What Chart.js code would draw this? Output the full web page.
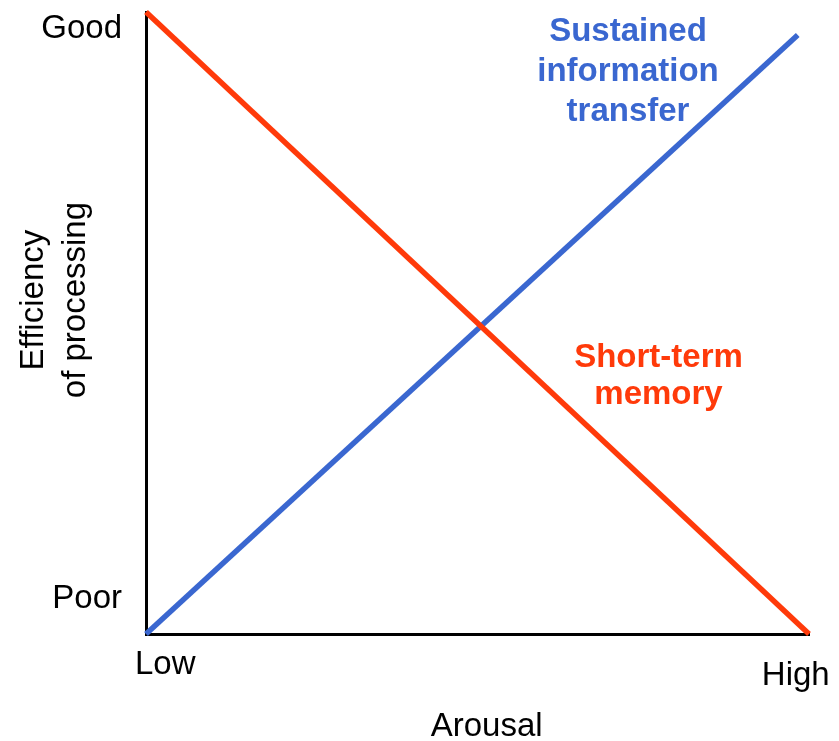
<!DOCTYPE html>
<html>
<head>
<meta charset="utf-8">
<script src="https://cdn.jsdelivr.net/npm/chart.js@4/dist/chart.umd.min.js"></script>
<style>
  html, body { margin: 0; padding: 0; background: #ffffff; }
  #wrap { width: 839px; height: 741px; }
</style>
</head>
<body>
<div id="wrap"><canvas id="c" width="839" height="741"></canvas></div>
<script>
// ---- data ----
const seriesNames = ['Short-term memory', 'Sustained information transfer'];
const arousalX = [0, 1];                 // Low -> High
const shortTermMemory = [1, 0];          // efficiency, falls with arousal
const sustainedX = [0, 0.983];
const sustainedInfo = [0, 0.963];        // efficiency, rises with arousal
const xTickValues = [0.029, 0.980];
const xTickLabels = ['Low', 'High'];
const yTickValues = [0.056, 0.9735];
const yTickLabels = ['Poor', 'Good'];
const xTitle = 'Arousal';
const yTitle = ['Efficiency', 'of processing'];

const RED = '#FF3A0A';
const BLUE = '#3A67D0';
const FAMILY = "'Liberation Sans', Arial, Helvetica, sans-serif";
const FS = 33;

const annotationPlugin = {
  id: 'seriesLabels',
  afterDatasetsDraw(chart) {
    const {ctx, scales: {x, y}} = chart;
    const labels = [
      {lines: ['Sustained', 'information', 'transfer'], cx: 0.727, ys: [0.953, 0.889, 0.825], color: BLUE},
      {lines: ['Short-term', 'memory'], cx: 0.773, ys: [0.429, 0.369], color: RED}
    ];
    ctx.save();
    ctx.font = 'bold ' + FS + 'px ' + FAMILY;
    ctx.textAlign = 'center';
    ctx.textBaseline = 'alphabetic';
    labels.forEach(l => {
      ctx.fillStyle = l.color;
      l.lines.forEach((t, i) => {
        ctx.fillText(t, x.getPixelForValue(l.cx), y.getPixelForValue(l.ys[i]));
      });
    });
    ctx.restore();
  }
};

new Chart(document.getElementById('c'), {
  type: 'line',
  data: {
    datasets: [
      {
        label: seriesNames[0],
        data: arousalX.map((v, i) => ({x: v, y: shortTermMemory[i]})),
        borderColor: RED,
        borderWidth: 5.5,
        pointRadius: 0,
        tension: 0,
        clip: false
      },
      {
        label: seriesNames[1],
        data: sustainedX.map((v, i) => ({x: v, y: sustainedInfo[i]})),
        borderColor: BLUE,
        borderWidth: 5.5,
        pointRadius: 0,
        tension: 0,
        clip: false
      }
    ]
  },
  options: {
    responsive: false,
    animation: false,
    devicePixelRatio: 1,
    layout: { padding: { top: 12, right: 30, left: 0, bottom: 0 } },
    plugins: { legend: { display: false }, tooltip: { enabled: false } },
    scales: {
      x: {
        type: 'linear',
        min: 0, max: 1,
        grid: { display: false, drawTicks: false },
        border: { display: true, color: '#000', width: 3 },
        afterBuildTicks: s => { s.ticks = xTickValues.map(v => ({value: v})); },
        afterFit: s => { s.height = 107; s.paddingLeft = 0; s.paddingRight = 0; s.paddingTop = 0; s.paddingBottom = 0; },
        ticks: {
          autoSkip: false,
          maxRotation: 0,
          minRotation: 0,
          padding: 10.5,
          color: '#000',
          font: ctx => ({ family: FAMILY, size: FS, lineHeight: ctx.index === 1 ? '62px' : '40px' }),
          callback: (v, i) => xTickLabels[i]
        },
        title: {
          display: true,
          text: '  ' + xTitle,
          color: '#000',
          font: { family: FAMILY, size: FS, lineHeight: '24px' },
          padding: { top: 0, bottom: 2.5 }
        }
      },
      y: {
        type: 'linear',
        min: 0, max: 1,
        grid: { display: false, drawTicks: false },
        border: { display: true, color: '#000', width: 3 },
        afterBuildTicks: s => { s.ticks = yTickValues.map(v => ({value: v})); },
        afterFit: s => { s.width = 146; s.paddingLeft = 0; s.paddingRight = 0; s.paddingTop = 0; s.paddingBottom = 0; },
        ticks: {
          autoSkip: false,
          padding: 24,
          color: '#000',
          font: { family: FAMILY, size: FS },
          callback: (v, i) => yTickLabels[i]
        },
        title: {
          display: true,
          text: yTitle.map(t => '     ' + t),
          color: '#000',
          font: { family: FAMILY, size: FS, lineHeight: '42px' },
          padding: { top: 13, bottom: 0 }
        }
      }
    }
  },
  plugins: [annotationPlugin]
});
</script>
</body>
</html>
